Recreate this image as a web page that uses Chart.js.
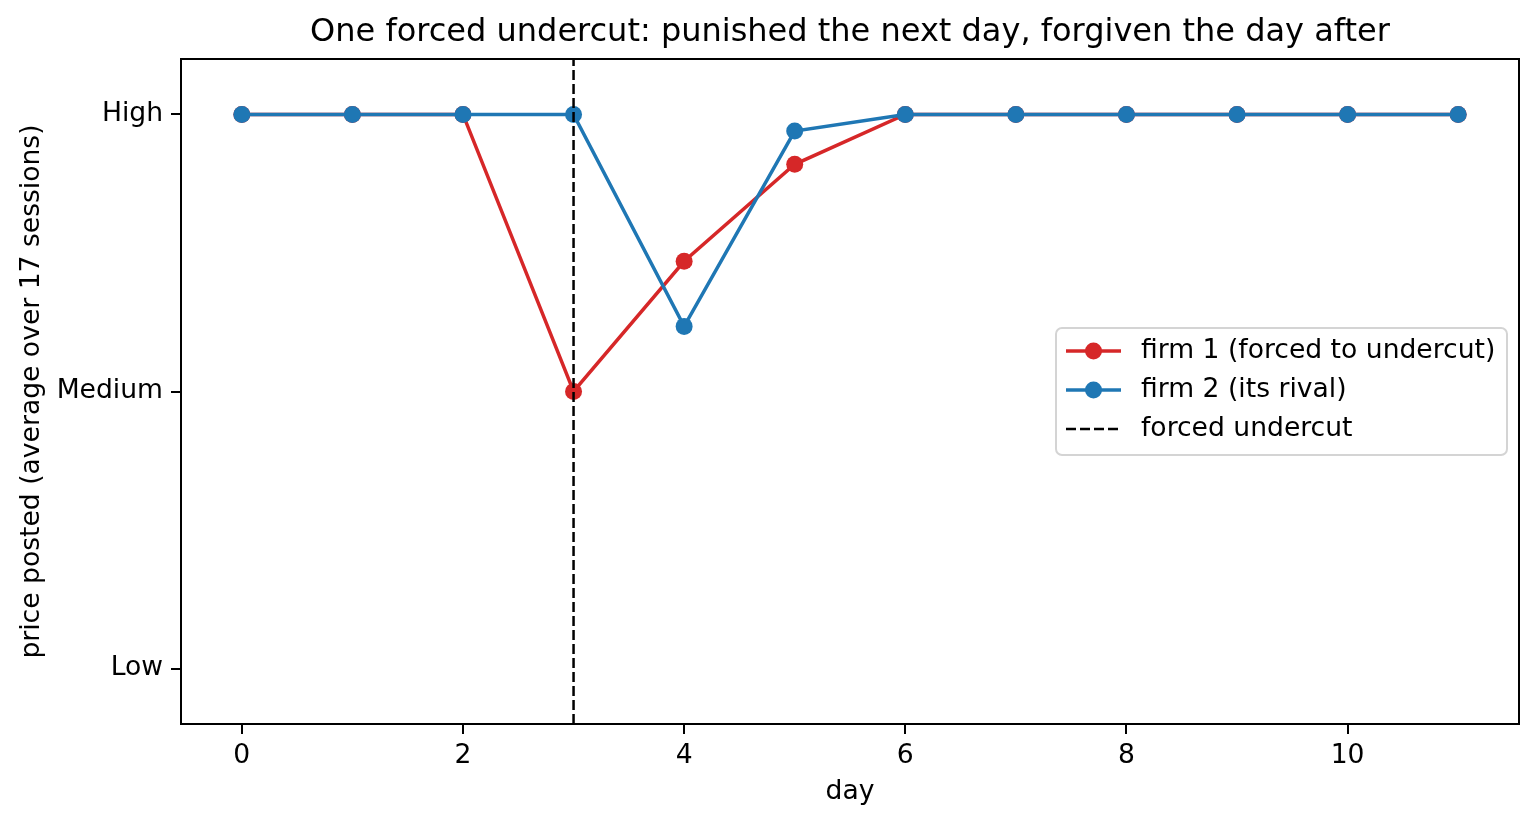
<!DOCTYPE html>
<html>
<head>
<meta charset="utf-8">
<script src="https://cdn.jsdelivr.net/npm/chart.js@4"></script>
<style>
  html, body { margin: 0; padding: 0; background: #fff; }
  #wrap { width: 1539px; height: 825px; }
</style>
</head>
<body>
<div id="wrap"><canvas id="chart" width="1539" height="825"></canvas></div>
<script>
const days = [0, 1, 2, 3, 4, 5, 6, 7, 8, 9, 10, 11];
const firm1 = [2, 2, 2, 1, 1.47, 1.82, 2, 2, 2, 2, 2, 2];
const firm2 = [2, 2, 2, 2, 1.235, 1.94, 2, 2, 2, 2, 2, 2];
const priceLabels = ['Low', 'Medium', 'High'];
const xTicks = [0, 2, 4, 6, 8, 10];
const undercutDay = 3;

const FONT = '"DejaVu Sans", sans-serif';
const red = '#d62728';
const blue = '#1f77b4';

const toPoints = (vals) => vals.map((v, i) => ({ x: days[i], y: v }));

// frame, title, axis titles, legend
const extras = {
    id: 'extras',
    afterDraw(chart) {
        const { ctx, chartArea: a } = chart;
        ctx.save();
        ctx.strokeStyle = '#000';
        ctx.lineWidth = 2;
        ctx.strokeRect(a.left, a.top, a.right - a.left, a.bottom - a.top);

        ctx.fillStyle = '#000';
        ctx.textAlign = 'center';
        ctx.textBaseline = 'middle';
        ctx.font = '32px ' + FONT;
        ctx.fillText('One forced undercut: punished the next day, forgiven the day after', (a.left + a.right) / 2, 33);

        ctx.font = '26.6px ' + FONT;
        ctx.fillText('day', (a.left + a.right) / 2, 792);
        ctx.save();
        ctx.translate(32, (a.top + a.bottom) / 2);
        ctx.rotate(-Math.PI / 2);
        ctx.fillText('price posted (average over 17 sessions)', 0, 0);
        ctx.restore();

        // legend
        const bx = 1056, by = 328, bw = 451, bh = 127;
        ctx.beginPath();
        ctx.roundRect(bx, by, bw, bh, 6);
        ctx.fillStyle = 'rgba(255,255,255,0.8)';
        ctx.fill();
        ctx.strokeStyle = '#d4d4d4';
        ctx.lineWidth = 2;
        ctx.stroke();

        const rows = chart.data.datasets.map((ds, i) => ({ ds, y: 351 + i * 39 }));
        rows.forEach(({ ds, y }) => {
            ctx.strokeStyle = ds.borderColor;
            ctx.lineWidth = ds.borderWidth;
            ctx.setLineDash(ds.borderDash || []);
            ctx.beginPath();
            ctx.moveTo(1066, y);
            ctx.lineTo(1121, y);
            ctx.stroke();
            ctx.setLineDash([]);
            if (ds.pointRadius > 0) {
                ctx.fillStyle = ds.borderColor;
                ctx.beginPath();
                ctx.arc(1093.5, y, ds.pointRadius, 0, Math.PI * 2);
                ctx.fill();
            }
            ctx.fillStyle = '#000';
            ctx.textAlign = 'left';
            ctx.fillText(ds.label, 1141, y);
        });
        ctx.restore();
    }
};

new Chart(document.getElementById('chart'), {
    type: 'line',
    data: {
        datasets: [
            {
                label: 'firm 1 (forced to undercut)',
                data: toPoints(firm1),
                borderColor: red,
                backgroundColor: red,
                borderWidth: 3.5,
                pointRadius: 8.5,
                pointHoverRadius: 8.5,
                pointBorderWidth: 0,
                order: 2
            },
            {
                label: 'firm 2 (its rival)',
                data: toPoints(firm2),
                borderColor: blue,
                backgroundColor: blue,
                borderWidth: 3.5,
                pointRadius: 8.5,
                pointHoverRadius: 8.5,
                pointBorderWidth: 0,
                order: 1
            },
            {
                label: 'forced undercut',
                data: [{ x: undercutDay, y: -0.2 }, { x: undercutDay, y: 2.2 }],
                borderColor: '#000',
                borderWidth: 2.5,
                borderDash: [10, 4],
                pointRadius: 0,
                order: 0
            }
        ]
    },
    options: {
        responsive: false,
        animation: false,
        events: [],
        layout: { padding: { left: 0, right: 20, top: 59, bottom: 0 } },
        plugins: { legend: { display: false }, title: { display: false }, tooltip: { enabled: false } },
        scales: {
            x: {
                type: 'linear',
                min: -0.55,
                max: 11.55,
                afterBuildTicks: (s) => { s.ticks = xTicks.map(v => ({ value: v })); },
                afterFit: (s) => { s.height = 101; },
                border: { display: false },
                grid: { drawOnChartArea: false, drawTicks: true, tickLength: 10, color: '#000', lineWidth: 2 },
                ticks: { color: '#000', font: { family: FONT, size: 26.6 }, padding: 6, maxRotation: 0 }
            },
            y: {
                type: 'linear',
                min: -0.2,
                max: 2.2,
                afterBuildTicks: (s) => { s.ticks = priceLabels.map((_, i) => ({ value: i })); },
                afterFit: (s) => { s.width = 181; },
                border: { display: false },
                grid: { drawOnChartArea: false, drawTicks: true, tickLength: 10, color: '#000', lineWidth: 2 },
                ticks: {
                    color: '#000',
                    font: { family: FONT, size: 26.6 },
                    padding: 8,
                    callback: (v) => priceLabels[v] ?? ''
                }
            }
        }
    },
    plugins: [extras]
});
</script>
</body>
</html>
